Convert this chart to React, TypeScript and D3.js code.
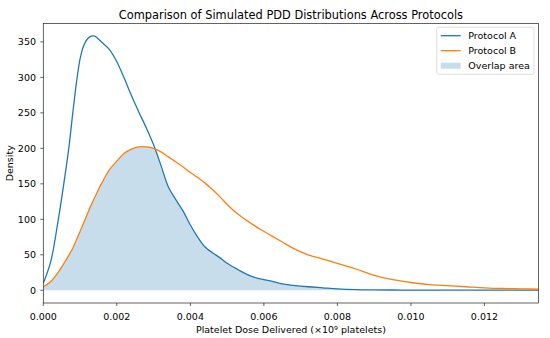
import React from "react";
import * as d3 from "d3";

const xs = [0, 0.0002, 0.0004, 0.0006, 0.0007, 0.0008, 0.0009, 0.001, 0.0011, 0.0012, 0.0013, 0.0014, 0.0015, 0.0016, 0.0018, 0.002, 0.0022, 0.0024, 0.0026, 0.0028, 0.003, 0.0032, 0.0034, 0.0036, 0.0038, 0.004, 0.0042, 0.0044, 0.0046, 0.0048, 0.005, 0.0053, 0.0056, 0.0059, 0.0062, 0.0065, 0.0068, 0.0072, 0.0076, 0.008, 0.0085, 0.009, 0.0095, 0.01, 0.0105, 0.011, 0.0115, 0.012, 0.0125, 0.013, 0.01347];
const protocolA = [10, 40, 97, 165, 203, 249, 292, 326, 345, 354, 358, 358, 354, 349, 339, 322, 299, 274, 251, 229, 205, 176, 146, 128, 112, 92, 75, 61, 53, 46, 38, 29, 21, 16, 13, 9, 7, 5, 3.5, 2, 1, 0.6, 0.4, 0.3, 0.25, 0.2, 0.2, 0.2, 0.2, 0.2, 0.2];
const protocolB = [5, 12, 25, 41, 50, 59, 71, 83, 95, 108, 120, 131, 142, 152, 170, 182, 193, 199, 202, 202, 200, 195, 188, 181, 174, 166, 159, 151, 142, 132, 121, 107, 96, 86, 77, 68, 59, 50, 44, 38, 30, 21, 15, 11, 8, 6.5, 5, 3.5, 2.5, 2, 1.5];
const xTicks = [0, 0.002, 0.004, 0.006, 0.008, 0.01, 0.012];
const yTicks = [0, 50, 100, 150, 200, 250, 300, 350];
const legendLabels = ["Protocol A", "Protocol B", "Overlap area"];

const W = 550, H = 338;
const L = 43.3, R = 538.5, T = 23.5, B = 303;
const FONT = "DejaVu Sans, sans-serif";
const blue = "#1f77b4", orange = "#ff7f0e";

export default function App() {
  const x = d3.scaleLinear().domain([0, 0.01347]).range([L, R]);
  const y = d3.scaleLinear().domain([-17.9, 375.9]).range([B, T]);
  const ptsA = xs.map((v, i) => [v, protocolA[i]] as [number, number]);
  const ptsB = xs.map((v, i) => [v, protocolB[i]] as [number, number]);
  const ov = xs.map((v, i) => [v, Math.min(protocolA[i], protocolB[i])] as [number, number]);
  const curve = d3.curveCatmullRom.alpha(0.5);
  const line = d3.line<[number, number]>().x(d => x(d[0])).y(d => y(d[1])).curve(curve);
  const area = d3.area<[number, number]>().x(d => x(d[0])).y0(y(0)).y1(d => y(d[1])).curve(curve);
  const fs = 9.5;
  return (
    <svg width={W} height={H} style={{ position: "absolute", left: 0, top: 0 }} fontFamily={FONT}>
      <rect width={W} height={H} fill="white" />
      <defs>
        <clipPath id="clip"><rect x={L} y={T} width={R - L} height={B - T} /></clipPath>
      </defs>
      <g clipPath="url(#clip)">
        <path d={area(ov) || ""} fill={blue} fillOpacity={0.25} />
        <path d={line(ptsA) || ""} fill="none" stroke={blue} strokeWidth={1.3} />
        <path d={line(ptsB) || ""} fill="none" stroke={orange} strokeWidth={1.3} />
      </g>
      <rect x={L} y={T} width={R - L} height={B - T} fill="none" stroke="#222" strokeWidth={0.7} />
      {xTicks.map(t => (
        <g key={"x" + t}>
          <line x1={x(t)} x2={x(t)} y1={B} y2={B + 3} stroke="#222" strokeWidth={0.7} />
          <text x={x(t)} y={319.5} fontSize={fs} textAnchor="middle" fill="#000">{t.toFixed(3)}</text>
        </g>
      ))}
      {yTicks.map(t => (
        <g key={"y" + t}>
          <line x1={L - 3} x2={L} y1={y(t)} y2={y(t)} stroke="#222" strokeWidth={0.7} />
          <text x={36} y={y(t) + 3.4} fontSize={fs} textAnchor="end" fill="#000">{t}</text>
        </g>
      ))}
      <text x={(L + R) / 2} y={333} fontSize={fs} textAnchor="middle">Platelet Dose Delivered (×10⁹ platelets)</text>
      <text transform={`translate(13,${(T + B) / 2}) rotate(-90)`} fontSize={fs} textAnchor="middle">Density</text>
      <text x={(L + R) / 2} y={18.5} fontSize={11.4} textAnchor="middle">Comparison of Simulated PDD Distributions Across Protocols</text>
      <g>
        <rect x={436.7} y={27.3} width={97.3} height={47} rx={2} fill="white" fillOpacity={0.8} stroke="#d0d0d0" strokeWidth={0.7} />
        <line x1={440.7} x2={460.7} y1={35.7} y2={35.7} stroke={blue} strokeWidth={1.3} />
        <line x1={440.7} x2={460.7} y1={50.7} y2={50.7} stroke={orange} strokeWidth={1.3} />
        <rect x={440.7} y={62.7} width={20} height={6} fill={blue} fillOpacity={0.25} />
        {legendLabels.map((s, i) => (
          <text key={s} x={468.3} y={35.7 + i * 15 + 3.4} fontSize={fs}>{s}</text>
        ))}
      </g>
    </svg>
  );
}
